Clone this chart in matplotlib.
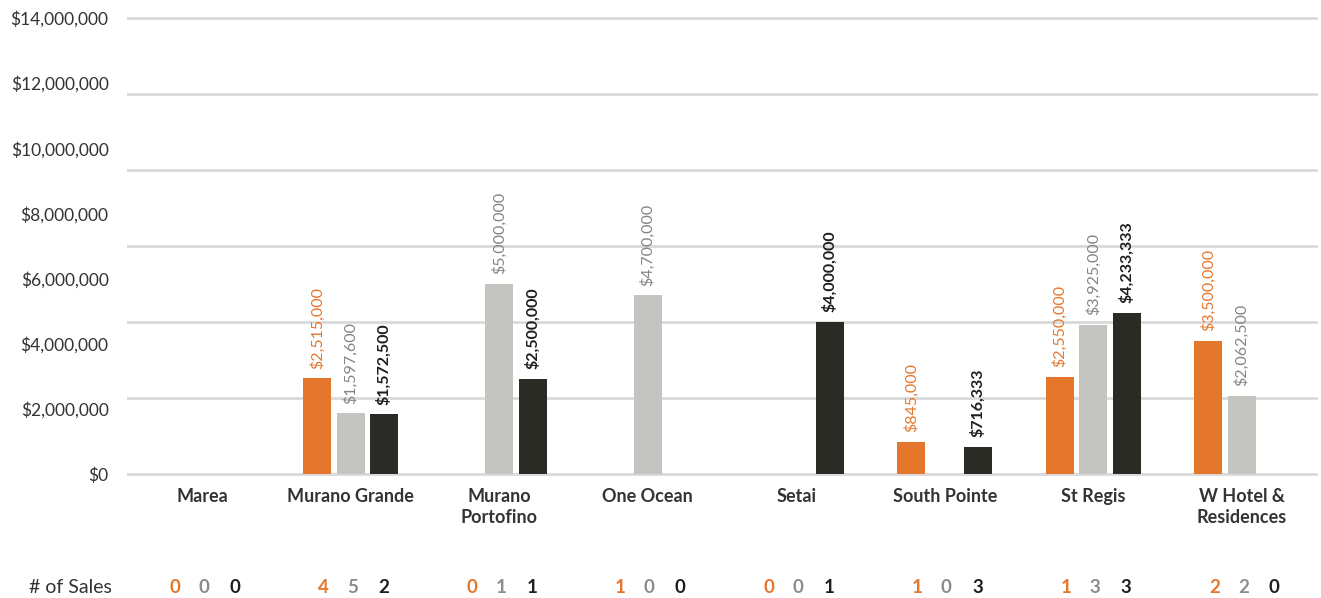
import matplotlib
matplotlib.use("Agg")
import matplotlib.pyplot as plt
import numpy as np

plt.rcParams["font.family"] = ["Lato", "DejaVu Sans"]

# ---------------------------------------------------------
# DATA
# ---------------------------------------------------------
buildings = ["Marea", "Murano Grande", "Murano\nPortofino", "One Ocean",
             "Setai", "South Pointe", "St Regis", "W Hotel &\nResidences"]

avg_orange = [0, 2515000, 0, 0, 0, 845000, 2550000, 3500000]
avg_grey = [0, 1597600, 5000000, 4700000, 0, 0, 3925000, 2062500]
avg_black = [0, 1572500, 2500000, 0, 4000000, 716333, 4233333, 0]

sales_orange = [0, 4, 0, 1, 0, 1, 1, 2]
sales_grey = [0, 5, 1, 0, 0, 0, 3, 2]
sales_black = [0, 2, 1, 0, 1, 3, 3, 0]

tick_labels = ["$0", "$2,000,000", "$4,000,000", "$6,000,000", "$8,000,000",
               "$10,000,000", "$12,000,000", "$14,000,000"]

ORANGE = "#E5772D"
GREY = "#C4C5C0"
BLACK = "#2B2B26"
GREY_TXT = "#858585"
TXT = "#333333"

# ---------------------------------------------------------
# CHART
# ---------------------------------------------------------
fig = plt.figure(figsize=(13.21, 5.98), dpi=100)
ax = fig.add_axes([0.0969, 0.2074, 0.8993, 0.7625])

x = np.arange(len(buildings))
off = 0.225
w = 0.19

series = [
    (avg_orange, -off, ORANGE, ORANGE, "normal"),
    (avg_grey, 0.0, GREY, GREY_TXT, "normal"),
    (avg_black, off, BLACK, "#1E1E1E", "bold"),
]

for vals, dx, col, tcol, weight in series:
    for xi, v in zip(x, vals):
        if v <= 0:
            continue
        ax.bar(xi + dx, v, width=w, color=col, zorder=3)
        ax.annotate(f"${v:,.0f}", (xi + dx, v), xytext=(0, 7),
                    textcoords="offset points", rotation=90,
                    ha="center", va="bottom", fontsize=11.5,
                    color=tcol, fontweight=weight, annotation_clip=False)

ax.set_xlim(-0.5, len(buildings) - 0.5)
ax.set_ylim(0, 12000000)

# gridlines every 2M, tick labels spread evenly over the axis (as in source)
for g in np.arange(0, 12000001, 2000000):
    ax.axhline(g, color="#D9D9D9", linewidth=2, zorder=0, clip_on=False)
ax.set_yticks(np.linspace(0, 12000000, len(tick_labels)))
ax.set_yticklabels(tick_labels, fontsize=12.5, color=TXT)
ax.tick_params(axis="y", length=0, pad=14)

ax.set_xticks(x)
ax.set_xticklabels(buildings, fontsize=13, color=TXT, fontweight="bold",
                   linespacing=1.3)
ax.tick_params(axis="x", length=0, pad=10)

for s in ax.spines.values():
    s.set_visible(False)

# # of sales row
trans = ax.get_xaxis_transform()
ax.text(-0.89, -0.25, "# of Sales", transform=trans, ha="center",
        va="center", fontsize=14, color=TXT)
for xi in x:
    ax.text(xi - 0.185, -0.25, str(sales_orange[xi]), transform=trans,
            ha="center", va="center", fontsize=13.5, color=ORANGE,
            fontweight="bold")
    ax.text(xi + 0.01, -0.25, str(sales_grey[xi]), transform=trans,
            ha="center", va="center", fontsize=13.5, color="#8C8C8C",
            fontweight="bold")
    ax.text(xi + 0.22, -0.25, str(sales_black[xi]), transform=trans,
            ha="center", va="center", fontsize=13.5, color="#1E1E1E",
            fontweight="bold")

fig.savefig("out.png", dpi=100)
